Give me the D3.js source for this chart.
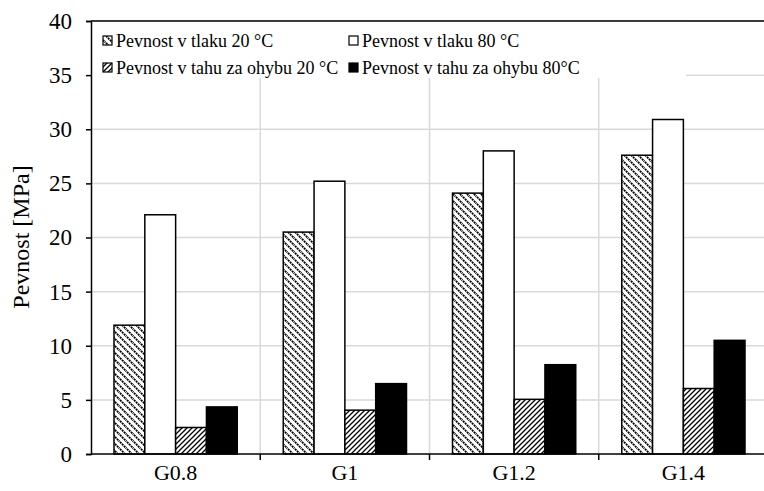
<!DOCTYPE html>
<html><head><meta charset="utf-8">
<script src="https://cdn.jsdelivr.net/npm/d3@7"></script>
<style>body{margin:0;background:#fff}svg{display:block}</style>
</head><body>
<svg id="c" width="764" height="491"></svg>
<script>
const categories = ["G0.8","G1","G1.2","G1.4"];
const seriesNames = ["Pevnost v tlaku 20 °C","Pevnost v tlaku 80 °C","Pevnost v tahu za ohybu 20 °C","Pevnost v tahu za ohybu 80°C"];
const comp20 = [11.9, 20.5, 24.1, 27.6];
const comp80 = [22.1, 25.2, 28.0, 30.9];
const flex20 = [2.45, 4.05, 5.05, 6.05];
const flex80 = [4.35, 6.5, 8.25, 10.5];
const yTicks = [0,5,10,15,20,25,30,35,40];

const FONT = "Liberation Serif";
const series = [comp20, comp80, flex20, flex80];
const fills = ["url(#pDown)","#fff","url(#pUp)","#000"];

const svg = d3.select("#c");
const L = 91, R = 768, T = 21, B = 454;
const defs = svg.append("defs");
const pd = defs.append("pattern").attr("id","pDown").attr("patternUnits","userSpaceOnUse").attr("width",7).attr("height",7);
pd.append("rect").attr("width",7).attr("height",7).attr("fill","#fff");
pd.append("path").attr("d","M-1,-1 L8,8 M-1,6 L1,8 M6,-1 L8,1").attr("stroke","#000").attr("stroke-width",1.8).attr("stroke-dasharray","2,0.8");
const pu = defs.append("pattern").attr("id","pUp").attr("patternUnits","userSpaceOnUse").attr("width",5).attr("height",5);
pu.append("rect").attr("width",5).attr("height",5).attr("fill","#fff");
pu.append("path").attr("d","M-1,6 L6,-1 M-1,1 L1,-1 M4,6 L6,4").attr("stroke","#000").attr("stroke-width",1.3);

const y = d3.scaleLinear().domain([0,40]).range([B,T]);
const x0 = d3.scaleBand().domain(categories).range([L,R]).paddingInner(0).paddingOuter(0);
const groupPad = 23/169.25;
const x1 = d3.scaleBand().domain(d3.range(4)).range([x0.bandwidth()*groupPad, x0.bandwidth()*(1-groupPad)]).padding(0);

// gridlines
svg.append("g").selectAll("line").data(yTicks.slice(1)).join("line")
  .attr("x1",L).attr("x2",R).attr("y1",d=>y(d)).attr("y2",d=>y(d))
  .attr("stroke","#d9d9d9").attr("stroke-width",1.5);
svg.append("g").selectAll("line").data(categories.slice(1)).join("line")
  .attr("x1",d=>x0(d)).attr("x2",d=>x0(d)).attr("y1",T).attr("y2",B)
  .attr("stroke","#d9d9d9").attr("stroke-width",1.5);

// legend box
svg.append("rect").attr("x",L).attr("y",T).attr("width",686-L).attr("height",57).attr("fill","#fff");
svg.append("line").attr("x1",L).attr("x2",R).attr("y1",T).attr("y2",T).attr("stroke","#000").attr("stroke-width",1.5);

// bars
const g = svg.append("g");
categories.forEach((c,i)=>{
  series.forEach((s,j)=>{
    g.append("rect").attr("x",x0(c)+x1(j)).attr("y",y(s[i]))
      .attr("width",x1.bandwidth()).attr("height",y(0)-y(s[i]))
      .attr("fill",fills[j]).attr("stroke","#000").attr("stroke-width",1.5);
  });
});

// axes
const ya = svg.append("g").attr("transform",`translate(${L},0)`)
  .call(d3.axisLeft(y).tickValues(yTicks).tickSize(5).tickPadding(14));
ya.attr("font-family",FONT);
ya.select(".domain").attr("stroke","#000").attr("stroke-width",1.5);
ya.selectAll(".tick line").attr("stroke","#000").attr("stroke-width",1.5);
ya.selectAll("text").attr("font-size",23).attr("font-family",FONT).attr("fill","#000");

svg.append("line").attr("x1",L).attr("x2",R).attr("y1",B).attr("y2",B).attr("stroke","#000").attr("stroke-width",1.5);
svg.append("g").selectAll("line").data(categories.slice(1)).join("line")
  .attr("x1",d=>x0(d)).attr("x2",d=>x0(d)).attr("y1",B).attr("y2",B+6)
  .attr("stroke","#000").attr("stroke-width",1.5);
svg.append("g").selectAll("text").data(categories).join("text")
  .attr("x",d=>x0(d)+x0.bandwidth()/2).attr("y",480).attr("text-anchor","middle")
  .attr("font-family",FONT).attr("font-size",22).text(d=>d);

svg.append("text").attr("transform","translate(29,237) rotate(-90)").attr("text-anchor","middle")
  .attr("font-family",FONT).attr("font-size",24).text("Pevnost [MPa]");

// legend
const legPos = [[103,47],[349,47],[103,74],[349,74]];
seriesNames.forEach((n,j)=>{
  const [lx,ly] = legPos[j];
  svg.append("rect").attr("x",lx).attr("y",ly-11).attr("width",9).attr("height",9)
    .attr("fill",fills[j]).attr("stroke","#000").attr("stroke-width",1.2);
  svg.append("text").attr("x",lx+13).attr("y",ly).attr("font-family",FONT).attr("font-size",18).text(n);
});
</script>
</body></html>
